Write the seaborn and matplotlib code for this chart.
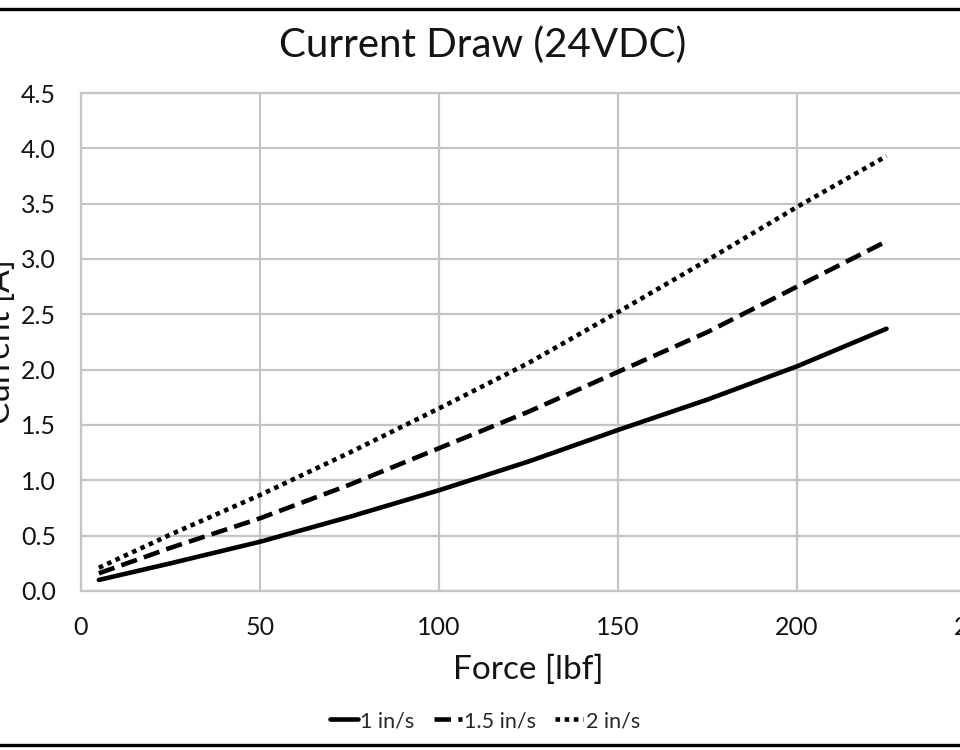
import matplotlib
matplotlib.use("Agg")
import matplotlib.pyplot as plt
import matplotlib.patches as mpatches
import seaborn as sns
import pandas as pd

# ---- data ----
force = [5, 25, 50, 75, 100, 125, 150, 175, 200, 225]
cur_1 = [0.10, 0.25, 0.445, 0.67, 0.91, 1.17, 1.455, 1.73, 2.03, 2.37]
cur_15 = [0.16, 0.39, 0.657, 0.96, 1.29, 1.62, 1.98, 2.34, 2.75, 3.16]
cur_2 = [0.21, 0.51, 0.867, 1.25, 1.65, 2.06, 2.52, 2.99, 3.47, 3.93]
series_names = ["1 in/s", "1.5 in/s", "2 in/s"]
x_ticks = [0, 50, 100, 150, 200, 250]
y_ticks = [0.0, 0.5, 1.0, 1.5, 2.0, 2.5, 3.0, 3.5, 4.0, 4.5]

rows = []
for name, vals in zip(series_names, [cur_1, cur_15, cur_2]):
    for f, c in zip(force, vals):
        rows.append({"Force": f, "Current": c, "Speed": name})
df = pd.DataFrame(rows)

sns.set_theme(style="white")
plt.rcParams["font.family"] = ["Lato", "DejaVu Sans"]

fig = plt.figure(figsize=(9.6, 7.5), dpi=100)
ax = fig.add_axes([81 / 960, 1 - 591 / 750, 895 / 960, 498 / 750])

grid_c = "#c4c4c4"
txt_c = "#141414"
sns.lineplot(data=df, x="Force", y="Current", style="Speed",
             style_order=series_names,
             dashes=["", (3.6, 1.6), (1, 1)], color="black", lw=3.3,
             ax=ax, legend=True)

ax.set_xlim(0, 250)
ax.set_ylim(0, 4.5)
ax.set_xticks(x_ticks)
ax.set_yticks(y_ticks)
ax.set_yticklabels([f"{v:.1f}" for v in y_ticks])
ax.grid(True, color=grid_c, lw=1.6)
ax.set_axisbelow(True)
for s in ax.spines.values():
    s.set_color(grid_c)
    s.set_linewidth(1.6)
ax.tick_params(axis="both", length=0, labelsize=18, colors=txt_c)
ax.tick_params(axis="x", pad=18)
ax.tick_params(axis="y", pad=18)

ax.set_xlabel("Force [lbf]", fontsize=24, labelpad=11, color=txt_c)
ax.set_ylabel("Current [A]", fontsize=24, color=txt_c)
ax.yaxis.set_label_coords((16 - 81) / 895, 0.5)

fig.suptitle("Current Draw (24VDC)", x=483 / 960, y=1 - 45 / 750,
             va="center", fontsize=29, color=txt_c)

handles, labels = ax.get_legend_handles_labels()
ax.get_legend().remove()
fig.legend(handles, labels, loc="center", bbox_to_anchor=(485 / 960, 1 - 721 / 750),
           ncol=3, frameon=False, fontsize=15.5, handlelength=1.3,
           handletextpad=0.1, columnspacing=0.9)

# outer border (left/right cropped in the reference)
fig.patches.append(mpatches.Rectangle((-0.01, 5.5 / 750), 1.02, 1 - 14.5 / 750,
                                      transform=fig.transFigure, fill=False,
                                      edgecolor="black", lw=2.4))

fig.savefig("out.png", dpi=100)
